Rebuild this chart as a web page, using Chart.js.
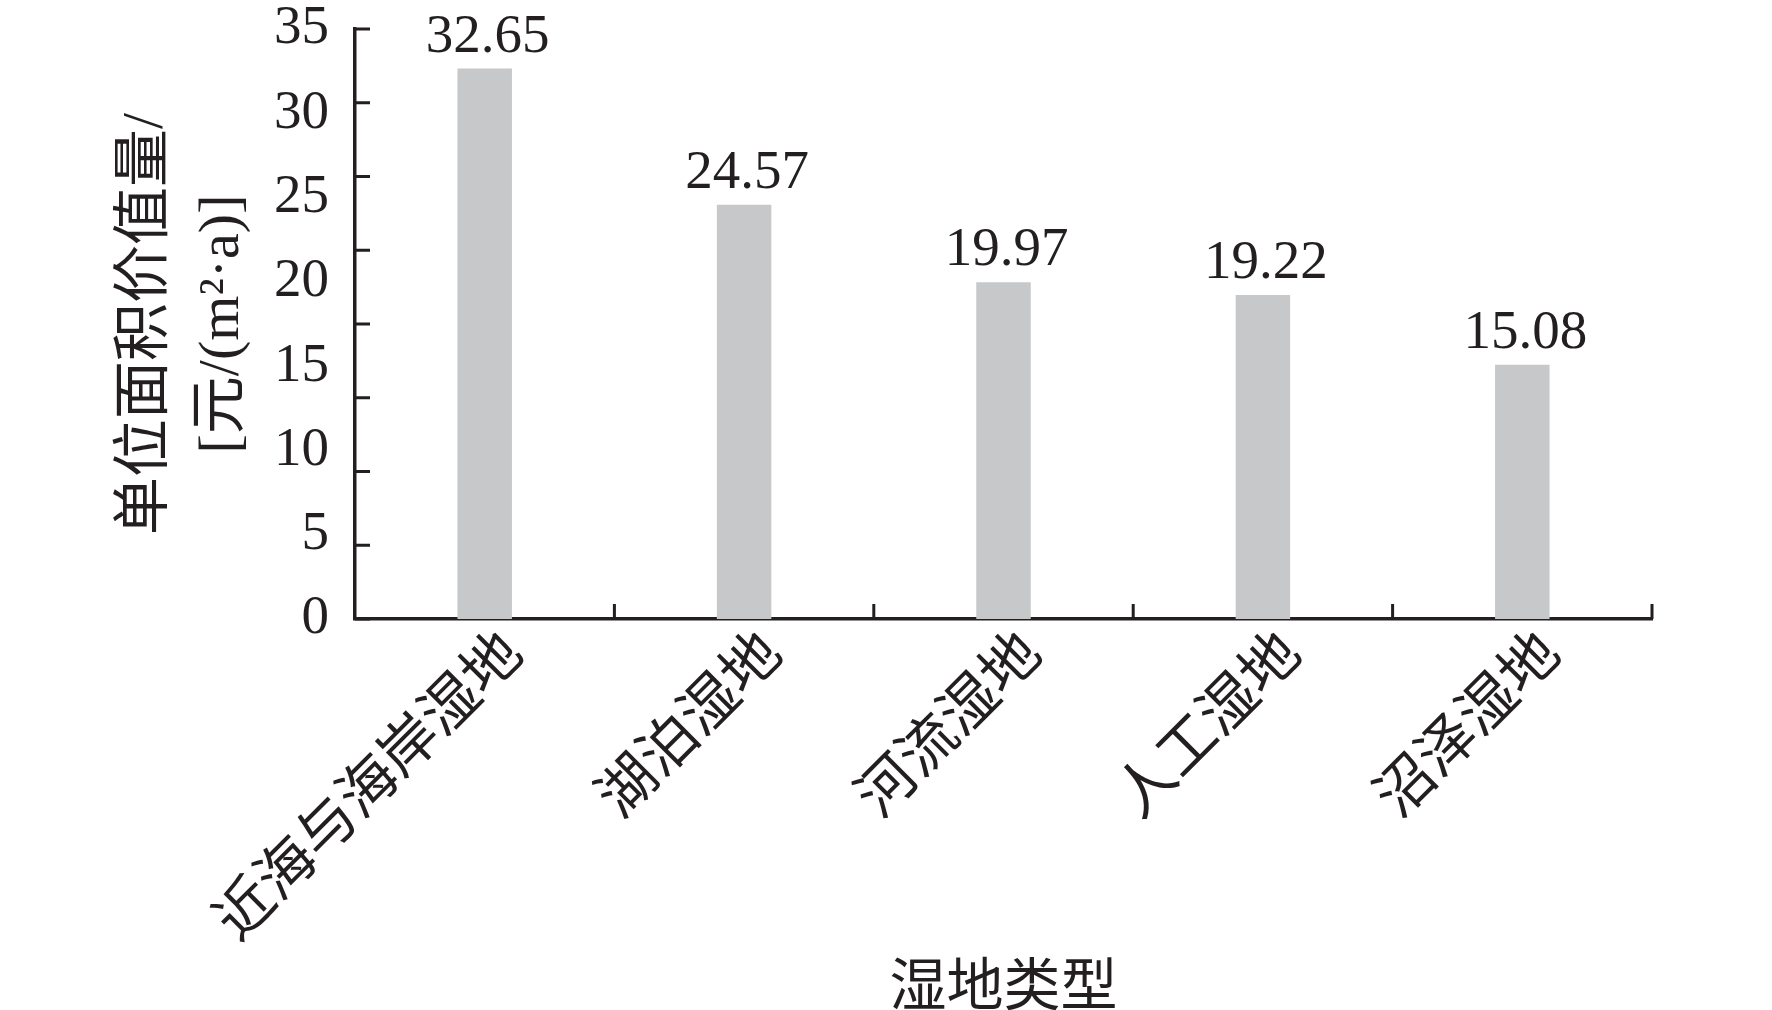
<!DOCTYPE html>
<html>
<head>
<meta charset="utf-8">
<script src="https://cdn.jsdelivr.net/npm/chart.js@4.4.1/dist/chart.umd.min.js"></script>
<style>
  html, body { margin: 0; padding: 0; background: #fff; }
  #wrap { width: 1772px; height: 1010px; }
</style>
</head>
<body>
<div id="wrap"><canvas id="chart"></canvas></div>
<script>
const categories = ['近海与海岸湿地', '湖泊湿地', '河流湿地', '人工湿地', '沼泽湿地'];
const values = [32.65, 24.57, 19.97, 19.22, 15.08];
const yTitle = ['单位面积价值量/', '[元/(m²·a)]'];
const xTitle = '湿地类型';
const yMax = 35;
const yStep = 5;
const tickMarkMax = 40; // the source's inner tick marks run on a slightly different spacing

const ink = '#231f20';
const fontFamily = "'Liberation Serif', 'Noto Sans CJK SC', serif";

// inward tick marks on both axes
const axisMarks = {
  id: 'axisMarks',
  afterDraw(chart) {
    const { ctx, scales: { x, y, yt } } = chart;
    ctx.save();
    ctx.strokeStyle = ink;
    ctx.lineWidth = 3;
    ctx.beginPath();
    for (let v = 0; v <= tickMarkMax; v += yStep) {
      const py = yt.getPixelForValue(v);
      ctx.moveTo(x.left, py);
      ctx.lineTo(x.left + 15, py);
    }
    for (let i = 0; i < categories.length; i++) {
      const px = x.getPixelForValue(i + 0.5);
      ctx.moveTo(px, y.bottom);
      ctx.lineTo(px, y.bottom - 15);
    }
    ctx.stroke();
    ctx.restore();
  }
};

// value labels above bars
const barLabels = {
  id: 'barLabels',
  afterDatasetsDraw(chart) {
    const { ctx } = chart;
    const meta = chart.getDatasetMeta(0);
    ctx.save();
    ctx.fillStyle = ink;
    ctx.font = "55px " + fontFamily;
    ctx.textAlign = 'center';
    ctx.textBaseline = 'alphabetic';
    meta.data.forEach((bar, i) => {
      ctx.fillText(values[i].toFixed(2), bar.x + 3, bar.y - 17);
    });
    ctx.restore();
  }
};

new Chart(document.getElementById('chart'), {
  type: 'bar',
  data: {
    labels: categories,
    datasets: [{
      data: values,
      backgroundColor: '#c7c8ca',
      barPercentage: 0.21,
      categoryPercentage: 1.0,
    }],
  },
  options: {
    responsive: true,
    maintainAspectRatio: false,
    animation: false,
    layout: { padding: { top: 29, right: 120, bottom: 0, left: 0 } },
    plugins: {
      legend: { display: false },
      tooltip: { enabled: false },
    },
    scales: {
      x: {
        grid: { display: false, drawTicks: false },
        border: { display: true, color: ink, width: 3.5 },
        ticks: {
          color: ink,
          font: { family: fontFamily, size: 58, lineHeight: 1 },
          minRotation: 45,
          maxRotation: 45,
          padding: 6,
          labelOffset: 30,
          autoSkip: false,
        },
        title: {
          display: true,
          text: xTitle,
          color: ink,
          font: { family: fontFamily, size: 57, lineHeight: 0.7 },
          padding: 0,
        },
        afterFit(scale) {
          scale.height = 391;
          scale.paddingTop = 0;
          scale.paddingBottom = 0;
        },
      },
      y: {
        min: 0,
        max: yMax,
        grid: { display: false, drawTicks: false },
        border: { display: true, color: ink, width: 3.5 },
        ticks: {
          stepSize: yStep,
          color: ink,
          font: { family: fontFamily, size: 55, lineHeight: 1 },
          padding: 26,
        },
        title: {
          display: true,
          text: yTitle,
          color: ink,
          font: { family: fontFamily, size: 58, lineHeight: 1.32 },
          padding: { top: 108, bottom: 0 },
        },
        afterFit(scale) {
          scale.width = 355;
          scale.paddingTop = 0;
          scale.paddingBottom = 0;
        },
      },
      yt: {
        type: 'linear',
        display: false,
        position: 'left',
        min: 0,
        max: tickMarkMax,
      },
    },
  },
  plugins: [axisMarks, barLabels],
});
</script>
</body>
</html>
